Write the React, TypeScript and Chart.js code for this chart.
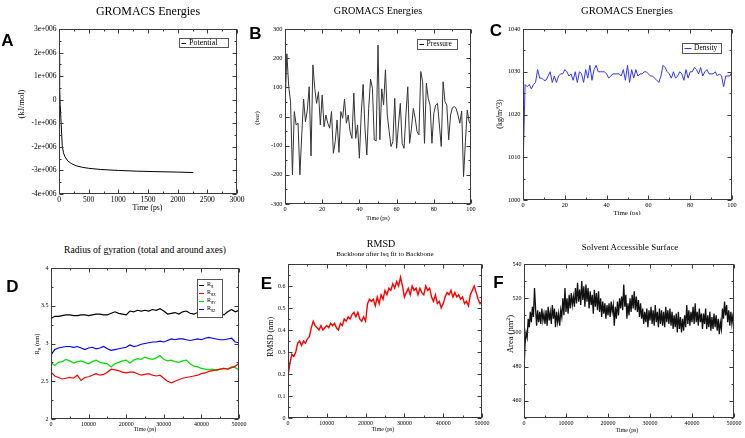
import React, { useEffect, useRef } from 'react';
import { Chart, registerables } from 'chart.js';

Chart.register(...registerables);

const SERIF = '"Liberation Serif", "Times New Roman", Times, serif';
const SANS = '"Liberation Sans", Arial, sans-serif';

// ---------------- DATA ----------------
// A: Potential (kJ/mol) vs time (ps)
const potentialTime = [0, 10, 20, 35, 55, 75, 100, 150, 215, 300, 400, 500, 700, 1000, 1300, 1600, 2000, 2265];
const potentialValues = [1.9e6, 0.6e6, -0.2e6, -0.95e6, -1.95e6, -2.25e6, -2.42e6, -2.6e6, -2.72e6, -2.81e6, -2.87e6, -2.91e6, -2.96e6, -3.0e6, -3.03e6, -3.05e6, -3.07e6, -3.09e6];

// B: Pressure (bar), one value per ps from 0 to 100
const pressureStart = 0;
const pressureStep = 1;
const pressureValues = [
  30, 215, 102, 50, -200, 17, -29, -23, -200, -63,
  60, -18, 22, 102, -135, 177, 97, 45, 85, -29,
  74, -35, 5, -23, -40, 17, -126, -86, -12, -123,
  17, -6, 60, -23, 5, -52, -75, 80, -75, -29,
  -143, 11, 110, -40, -132, 28, 128, 97, -80, -84,
  245, -80, 95, 40, 160, 5, -52, -103, -86, 62,
  -109, -29, 45, -92, -109, 5, 102, -92, -40, 28,
  -6, -52, -63, 154, 119, -92, 114, 62, 39, -92,
  11, 39, 45, -29, -103, 119, 51, 39, -80, 5,
  30, 34, 28, 5, -23, 19, -206, -86, 22, -18,
  -29,
];

// C: Density (kg/m^3), one value per ps from 0 to 100
const densityStart = 0;
const densityStep = 1;
const densityValues = [
  1007, 1027, 1026.5, 1027, 1026, 1027, 1027.5, 1030.5, 1028.5, 1028.5,
  1028, 1028, 1029, 1030, 1027.5, 1029, 1027.5, 1029, 1029.5, 1029.5,
  1030.5, 1030, 1029, 1029.5, 1028, 1030, 1027.5, 1030, 1029.5, 1027.5,
  1030.5, 1028.5, 1031.5, 1028, 1030.5, 1031.5, 1030, 1030, 1030, 1030,
  1029.5, 1028.5, 1029, 1029.5, 1029.5, 1029.5, 1029.5, 1029, 1030.5, 1028,
  1031.5, 1027.5, 1030.5, 1028.5, 1030.5, 1029, 1029.5, 1029.5, 1030, 1030,
  1029.5, 1029, 1029, 1028.5, 1028, 1027.5, 1029, 1031.5, 1031, 1030,
  1029.5, 1028.5, 1030, 1028.5, 1029, 1030, 1029.5, 1028, 1030.5, 1028.5,
  1030, 1030, 1031, 1030.5, 1029.5, 1031, 1029, 1030, 1030.5, 1029.5,
  1029.5, 1029.5, 1030, 1029, 1029.5, 1029, 1026.5, 1029, 1029, 1029,
  1030,
];

// D: Radius of gyration (nm), one value per 1000 ps from 0 to 50000
const gyrStart = 0;
const gyrStep = 1000;
const rgValues = [
  3.33, 3.36, 3.36, 3.37, 3.38, 3.38, 3.37, 3.37, 3.38, 3.38,
  3.37, 3.38, 3.39, 3.39, 3.38, 3.38, 3.40, 3.42, 3.40, 3.39,
  3.38, 3.43, 3.42, 3.44, 3.43, 3.44, 3.43, 3.45, 3.44, 3.46,
  3.43, 3.39, 3.40, 3.41, 3.39, 3.42, 3.43, 3.40, 3.39, 3.41,
  3.38, 3.40, 3.42, 3.40, 3.39, 3.40, 3.38, 3.42, 3.45, 3.42,
  3.44,
];
const rgxValues = [
  2.62, 2.57, 2.55, 2.53, 2.54, 2.55, 2.54, 2.58, 2.51, 2.55,
  2.56, 2.58, 2.60, 2.58, 2.59, 2.62, 2.66, 2.65, 2.64, 2.62,
  2.61, 2.62, 2.62, 2.60, 2.58, 2.59, 2.60, 2.58, 2.57, 2.58,
  2.54, 2.50, 2.48, 2.50, 2.52, 2.54, 2.55, 2.56, 2.57, 2.58,
  2.60, 2.61, 2.63, 2.64, 2.65, 2.66, 2.67, 2.66, 2.68, 2.70,
  2.74,
];
const rgyValues = [
  2.75, 2.71, 2.75, 2.76, 2.79, 2.77, 2.74, 2.76, 2.77, 2.75,
  2.73, 2.76, 2.78, 2.75, 2.74, 2.73, 2.69, 2.73, 2.75, 2.77,
  2.78, 2.74, 2.78, 2.80, 2.79, 2.82, 2.80, 2.79, 2.81, 2.84,
  2.79, 2.77, 2.78, 2.76, 2.75, 2.77, 2.78, 2.73, 2.70, 2.69,
  2.67, 2.66, 2.65, 2.66, 2.64, 2.66, 2.67, 2.66, 2.69, 2.68,
  2.65,
];
const rgzValues = [
  2.85, 2.92, 2.94, 2.95, 2.96, 2.96, 2.95, 2.96, 2.94, 2.92,
  2.94, 2.95, 2.93, 2.94, 2.96, 2.93, 2.91, 2.92, 2.93, 2.94,
  2.95, 2.98, 2.96, 2.97, 2.99, 3.00, 3.01, 3.02, 3.02, 3.03,
  3.02, 3.04, 3.06, 3.05, 3.06, 3.06, 3.05, 3.04, 3.05, 3.06,
  3.05, 3.07, 3.08, 3.07, 3.06, 3.05, 3.05, 3.06, 3.07, 3.02,
  3.01,
];

// E: RMSD (nm), one value per 500 ps from 0 to 50000
const rmsdStart = 0;
const rmsdStep = 500;
const rmsdValues = [
  0.19, 0.25, 0.29, 0.28, 0.30, 0.34, 0.35, 0.33, 0.35, 0.34,
  0.36, 0.37, 0.41, 0.44, 0.42, 0.41, 0.40, 0.42, 0.40, 0.41,
  0.42, 0.41, 0.43, 0.42, 0.43, 0.41, 0.40, 0.43, 0.42, 0.45,
  0.44, 0.46, 0.45, 0.47, 0.48, 0.46, 0.48, 0.45, 0.44, 0.46,
  0.44, 0.52, 0.54, 0.53, 0.54, 0.51, 0.55, 0.52, 0.56, 0.54,
  0.58, 0.56, 0.59, 0.58, 0.61, 0.59, 0.62, 0.60, 0.64, 0.60,
  0.55, 0.57, 0.59, 0.56, 0.60, 0.58, 0.59, 0.56, 0.59, 0.57,
  0.56, 0.60, 0.58, 0.59, 0.55, 0.53, 0.56, 0.52, 0.53, 0.50,
  0.52, 0.55, 0.57, 0.56, 0.58, 0.55, 0.57, 0.55, 0.56, 0.54,
  0.55, 0.52, 0.53, 0.51, 0.56, 0.58, 0.60, 0.57, 0.54, 0.52,
  0.53,
];

// F: Solvent accessible surface area (nm^2), one value per 250 ps from 0 to 50000
const sasStart = 0;
const sasStep = 250;
const sasValues = [
  478, 493, 500, 497, 508, 503, 512, 506, 515, 509,
  526, 514, 504, 513, 506, 512, 505, 514, 507, 511,
  505, 513, 504, 515, 507, 512, 505, 516, 508, 514,
  503, 512, 506, 511, 504, 513, 509, 520, 510, 526,
  512, 520, 511, 522, 514, 523, 516, 521, 515, 526,
  517, 529, 518, 525, 516, 530, 519, 527, 515, 528,
  518, 526, 514, 524, 516, 522, 511, 525, 515, 523,
  513, 524, 512, 520, 509, 518, 511, 517, 508, 516,
  510, 517, 509, 518, 512, 516, 504, 515, 508, 518,
  510, 520, 514, 521, 513, 528, 515, 522, 508, 517,
  510, 520, 512, 522, 514, 524, 513, 521, 512, 519,
  509, 517, 508, 514, 505, 512, 506, 514, 503, 513,
  507, 515, 505, 513, 504, 516, 506, 512, 503, 514,
  505, 513, 504, 512, 503, 515, 506, 513, 505, 514,
  504, 512, 502, 510, 503, 511, 500, 512, 502, 509,
  500, 508, 501, 510, 503, 516, 505, 513, 504, 512,
  506, 515, 505, 517, 506, 512, 504, 514, 506, 511,
  502, 511, 505, 514, 502, 510, 503, 512, 501, 509,
  502, 511, 503, 510, 501, 508, 499, 506, 502, 514,
  508, 518, 510, 516, 506, 513, 504, 512, 505, 510,
  508,
];

// Tick values and labels
const potXMajor = [0, 500, 1000, 1500, 2000, 2500, 3000];
const potXLabels = ['0', '500', '1000', '1500', '2000', '2500', '3000'];
const potXMinor = [250, 750, 1250, 1750, 2250, 2750];
const potYMajor = [-4e6, -3e6, -2e6, -1e6, 0, 1e6, 2e6, 3e6];
const potYLabels = ['-4e+006', '-3e+006', '-2e+006', '-1e+006', '0', '1e+006', '2e+006', '3e+006'];
const potYMinor = [-3.5e6, -2.5e6, -1.5e6, -0.5e6, 0.5e6, 1.5e6, 2.5e6];

const hundredXMajor = [0, 20, 40, 60, 80, 100];
const hundredXLabels = ['0', '20', '40', '60', '80', '100'];
const hundredXMinor = [10, 30, 50, 70, 90];

const presYMajor = [-300, -200, -100, 0, 100, 200, 300];
const presYLabels = ['-300', '-200', '-100', '0', '100', '200', '300'];
const presYMinor = [-250, -150, -50, 50, 150, 250];

const densYMajor = [1000, 1010, 1020, 1030, 1040];
const densYLabels = ['1000', '1010', '1020', '1030', '1040'];
const densYMinor = [1005, 1015, 1025, 1035];

const longXMajor = [0, 10000, 20000, 30000, 40000, 50000];
const longXLabels = ['0', '10000', '20000', '30000', '40000', '50000'];
const longXMinor = [5000, 15000, 25000, 35000, 45000];

const gyrYMajor = [2, 2.5, 3, 3.5, 4];
const gyrYLabels = ['2', '2.5', '3', '3.5', '4'];
const gyrYMinor = [2.25, 2.75, 3.25, 3.75];

const rmsdYMajor = [0, 0.1, 0.2, 0.3, 0.4, 0.5, 0.6, 0.7];
const rmsdYLabels = ['0', '0.1', '0.2', '0.3', '0.4', '0.5', '0.6', ''];
const rmsdYMinor = [0.05, 0.15, 0.25, 0.35, 0.45, 0.55, 0.65];

const sasYMajor = [460, 480, 500, 520, 540];
const sasYLabels = ['460', '480', '500', '520', '540'];
const sasYMinor = [450, 470, 490, 510, 530];

// ---------------- HELPERS ----------------
type Pt = { x: number; y: number };
const pairPoints = (xs: number[], ys: number[]): Pt[] => ys.map((y, i) => ({ x: xs[i], y }));
const stepPoints = (start: number, step: number, ys: number[]): Pt[] => ys.map((y, i) => ({ x: start + i * step, y }));

interface AxisSpec { min: number; max: number; major: number[]; labels: string[]; minor: number[] }
interface LegendEntry { main: string; sub?: string; subsub?: string; color: string }
interface LegendSpec { box: [number, number, number, number]; rows: number[]; font: number; lineFrom: number; lineTo: number; textX: number; entries: LegendEntry[] }
interface PanelSpec {
  id: string;
  plot: [number, number, number, number];
  x: AxisSpec;
  y: AxisSpec;
  tickFont: number;
  series: { points: Pt[]; color: string; width: number }[];
  legend?: LegendSpec;
}

const PAD_L = 50, PAD_T = 8, PAD_R = 18, PAD_B = 16;
const FRAME = '#3a3a3a';

const panels: PanelSpec[] = [
  {
    id: 'A', plot: [59, 29, 237, 194], tickFont: 7.5,
    x: { min: 0, max: 3000, major: potXMajor, labels: potXLabels, minor: potXMinor },
    y: { min: -4e6, max: 3e6, major: potYMajor, labels: potYLabels, minor: potYMinor },
    series: [{ points: pairPoints(potentialTime, potentialValues), color: '#000000', width: 1 }],
    legend: { box: [179, 38, 228, 47], rows: [42.5], font: 8, lineFrom: 181.5, lineTo: 186, textX: 189, entries: [{ main: 'Potential', color: '#000000' }] },
  },
  {
    id: 'B', plot: [285, 29, 471, 204], tickFont: 6.3,
    x: { min: 0, max: 100, major: hundredXMajor, labels: hundredXLabels, minor: hundredXMinor },
    y: { min: -300, max: 300, major: presYMajor, labels: presYLabels, minor: presYMinor },
    series: [{ points: stepPoints(pressureStart, pressureStep, pressureValues), color: '#333333', width: 1 }],
    legend: { box: [417, 39, 457, 49], rows: [44], font: 7.5, lineFrom: 419.5, lineTo: 424, textX: 426.5, entries: [{ main: 'Pressure', color: '#000000' }] },
  },
  {
    id: 'C', plot: [523, 29, 732, 200], tickFont: 6.3,
    x: { min: 0, max: 100, major: hundredXMajor, labels: hundredXLabels, minor: hundredXMinor },
    y: { min: 1000, max: 1040, major: densYMajor, labels: densYLabels, minor: densYMinor },
    series: [{ points: stepPoints(densityStart, densityStep, densityValues), color: '#3333ff', width: 1 }],
    legend: { box: [682, 43, 721, 53], rows: [48], font: 7.5, lineFrom: 684.5, lineTo: 691.5, textX: 694, entries: [{ main: 'Density', color: '#3333ff' }] },
  },
  {
    id: 'D', plot: [51, 268, 239, 419], tickFont: 6,
    x: { min: 0, max: 50000, major: longXMajor, labels: longXLabels, minor: longXMinor },
    y: { min: 2, max: 4, major: gyrYMajor, labels: gyrYLabels, minor: gyrYMinor },
    series: [
      { points: stepPoints(gyrStart, gyrStep, rgValues), color: '#000000', width: 1.2 },
      { points: stepPoints(gyrStart, gyrStep, rgxValues), color: '#ff0000', width: 1.2 },
      { points: stepPoints(gyrStart, gyrStep, rgyValues), color: '#00dd00', width: 1.2 },
      { points: stepPoints(gyrStart, gyrStep, rgzValues), color: '#0000ff', width: 1.2 },
    ],
    legend: {
      box: [197, 279, 222, 317], rows: [284.5, 292.5, 300.5, 308.5], font: 6, lineFrom: 199, lineTo: 204, textX: 207,
      entries: [
        { main: 'R', sub: 'g', color: '#000000' },
        { main: 'R', sub: 'g', subsub: 'X', color: '#ff0000' },
        { main: 'R', sub: 'g', subsub: 'Y', color: '#00dd00' },
        { main: 'R', sub: 'g', subsub: 'Z', color: '#0000ff' },
      ],
    },
  },
  {
    id: 'E', plot: [288, 264, 482, 418], tickFont: 6,
    x: { min: 0, max: 50000, major: longXMajor, labels: longXLabels, minor: longXMinor },
    y: { min: 0, max: 0.7, major: rmsdYMajor, labels: rmsdYLabels, minor: rmsdYMinor },
    series: [{ points: stepPoints(rmsdStart, rmsdStep, rmsdValues), color: '#ff0000', width: 1.4 }],
  },
  {
    id: 'F', plot: [524, 264, 734, 418], tickFont: 6,
    x: { min: 0, max: 50000, major: longXMajor, labels: longXLabels, minor: longXMinor },
    y: { min: 450, max: 540, major: sasYMajor, labels: sasYLabels, minor: sasYMinor },
    series: [{ points: stepPoints(sasStart, sasStep, sasValues), color: '#111111', width: 1.3 }],
  },
];

function labelLookup(ax: AxisSpec) {
  const tol = Math.abs(ax.max - ax.min) * 1e-6;
  return (v: number) => {
    const i = ax.major.findIndex((m) => Math.abs(m - v) <= tol);
    return i >= 0 ? ax.labels[i] : '';
  };
}

function makeFramePlugin(spec: PanelSpec, offX: number, offY: number) {
  return {
    id: 'xmgrFrame' + spec.id,
    afterDatasetsDraw(chart: any) {
      const { ctx, chartArea: a, scales } = chart;
      const xs = scales.x, ys = scales.y;
      ctx.save();
      ctx.strokeStyle = FRAME;
      ctx.lineWidth = 1;
      const L = Math.round(a.left) + 0.5, R = Math.round(a.right) - 0.5;
      const T = Math.round(a.top) + 0.5, B = Math.round(a.bottom) - 0.5;
      ctx.strokeRect(L, T, R - L, B - T);
      ctx.beginPath();
      const xt = (v: number, len: number) => {
        const p = Math.round(xs.getPixelForValue(v)) + 0.5;
        ctx.moveTo(p, B); ctx.lineTo(p, B - len);
        ctx.moveTo(p, T); ctx.lineTo(p, T + len);
      };
      const yt = (v: number, len: number) => {
        const p = Math.round(ys.getPixelForValue(v)) + 0.5;
        ctx.moveTo(L, p); ctx.lineTo(L + len, p);
        ctx.moveTo(R, p); ctx.lineTo(R - len, p);
      };
      spec.x.major.forEach((v) => xt(v, 4));
      spec.x.minor.forEach((v) => xt(v, 2));
      spec.y.major.forEach((v) => yt(v, 4));
      spec.y.minor.forEach((v) => yt(v, 2));
      ctx.stroke();

      const lg = spec.legend;
      if (lg) {
        const [bl, bt, br, bb] = lg.box;
        const x0 = bl - offX, y0 = bt - offY;
        ctx.fillStyle = '#ffffff';
        ctx.fillRect(x0 + 0.5, y0 + 0.5, br - bl, bb - bt);
        ctx.strokeStyle = '#555555';
        ctx.strokeRect(x0 + 0.5, y0 + 0.5, br - bl, bb - bt);
        lg.entries.forEach((e, i) => {
          const cy = lg.rows[i] - offY;
          ctx.strokeStyle = e.color;
          ctx.lineWidth = 1;
          ctx.beginPath();
          ctx.moveTo(lg.lineFrom - offX, Math.round(cy) + 0.5);
          ctx.lineTo(lg.lineTo - offX, Math.round(cy) + 0.5);
          ctx.stroke();
          ctx.fillStyle = '#000000';
          ctx.textBaseline = 'middle';
          ctx.textAlign = 'left';
          let tx = lg.textX - offX;
          ctx.font = `${lg.font}px ${SERIF}`;
          ctx.fillText(e.main, tx, cy);
          tx += ctx.measureText(e.main).width;
          if (e.sub) {
            ctx.font = `${lg.font * 0.75}px ${SERIF}`;
            ctx.fillText(e.sub, tx, cy + lg.font * 0.25);
            tx += ctx.measureText(e.sub).width;
          }
          if (e.subsub) {
            ctx.font = `${lg.font * 0.55}px ${SERIF}`;
            ctx.fillText(e.subsub, tx, cy + lg.font * 0.5);
          }
        });
      }
      ctx.restore();
    },
  };
}

function geometry(spec: PanelSpec) {
  const [l, t, r, b] = spec.plot;
  return { left: l - PAD_L, top: t - PAD_T, width: PAD_L + (r - l) + PAD_R, height: PAD_T + (b - t) + PAD_B };
}

function createChart(canvas: HTMLCanvasElement, spec: PanelSpec) {
  const g = geometry(spec);
  const font = { family: SERIF, size: spec.tickFont };
  const xLab = labelLookup(spec.x), yLab = labelLookup(spec.y);
  return new Chart(canvas, {
    type: 'line',
    data: {
      datasets: spec.series.map((s) => ({
        data: s.points,
        borderColor: s.color,
        borderWidth: s.width,
        pointRadius: 0,
        fill: false,
        tension: 0,
      })),
    },
    options: {
      animation: false,
      responsive: false,
      maintainAspectRatio: false,
      devicePixelRatio: 1,
      events: [],
      parsing: false,
      layout: { padding: { left: 0, top: PAD_T, right: PAD_R, bottom: 0 } },
      plugins: { legend: { display: false }, tooltip: { enabled: false }, title: { display: false } },
      scales: {
        x: {
          type: 'linear',
          min: spec.x.min,
          max: spec.x.max,
          afterBuildTicks: (s: any) => { s.ticks = spec.x.major.map((v) => ({ value: v })); },
          afterFit: (s: any) => { s.height = PAD_B; },
          grid: { display: false, drawTicks: false },
          border: { display: false },
          ticks: { font, color: '#000000', padding: 2, maxRotation: 0, minRotation: 0, autoSkip: false, callback: (v: any) => xLab(Number(v)) },
        },
        y: {
          type: 'linear',
          min: spec.y.min,
          max: spec.y.max,
          afterBuildTicks: (s: any) => { s.ticks = spec.y.major.map((v) => ({ value: v })); },
          afterFit: (s: any) => { s.width = PAD_L; },
          grid: { display: false, drawTicks: false },
          border: { display: false },
          ticks: { font, color: '#000000', padding: 2.5, autoSkip: false, callback: (v: any) => yLab(Number(v)) },
        },
      },
    } as any,
    plugins: [makeFramePlugin(spec, g.left, g.top)],
  });
}

// ---------------- TEXT OVERLAYS ----------------
interface TextItem { content: React.ReactNode; x: number; y: number; size: number; rotate?: boolean; letter?: boolean }
const textItems: TextItem[] = [
  // panel letters
  { content: 'A', x: 7.5, y: 40, size: 17, letter: true },
  { content: 'B', x: 255.5, y: 33, size: 17, letter: true },
  { content: 'C', x: 496, y: 30, size: 17, letter: true },
  { content: 'D', x: 12.5, y: 286, size: 17, letter: true },
  { content: 'E', x: 266.5, y: 282.5, size: 17, letter: true },
  { content: 'F', x: 498.5, y: 281.5, size: 17, letter: true },
  // titles
  { content: 'GROMACS Energies', x: 148, y: 11, size: 12 },
  { content: 'GROMACS Energies', x: 378, y: 11, size: 10.2 },
  { content: 'GROMACS Energies', x: 627, y: 11, size: 10.6 },
  { content: 'Radius of gyration (total and around axes)', x: 145, y: 250, size: 9.6 },
  { content: 'RMSD', x: 381, y: 244, size: 10 },
  { content: 'Backbone after lsq fit to Backbone', x: 385, y: 254, size: 7 },
  { content: 'Solvent Accessible Surface', x: 630, y: 247, size: 8.9 },
  // x-axis titles
  { content: 'Time (ps)', x: 147.5, y: 207.5, size: 7.7 },
  { content: 'Time (ps)', x: 378, y: 218, size: 6 },
  { content: 'Time (ps)', x: 145, y: 430, size: 5.8 },
  { content: 'Time (ps)', x: 383, y: 429.5, size: 5.8 },
  { content: 'Time (ps)', x: 627, y: 430.5, size: 5.8 },
  // y-axis titles
  { content: '(kJ/mol)', x: 20.5, y: 104, size: 8.5, rotate: true },
  { content: '(bar)', x: 256.5, y: 117.5, size: 7, rotate: true },
  { content: '(kg/m^3)', x: 500, y: 114, size: 8, rotate: true },
  { content: <span>R<sub style={{ fontSize: '0.75em', verticalAlign: '-0.2em' }}>g</sub> (nm)</span>, x: 37.5, y: 344, size: 6.5, rotate: true },
  { content: 'RMSD (nm)', x: 270.5, y: 337, size: 8, rotate: true },
  { content: <span>Area (nm<sup style={{ fontSize: '0.7em', verticalAlign: '0.45em' }}>2</sup>)</span>, x: 509.5, y: 334, size: 8.5, rotate: true },
];

export default function App() {
  const refs = useRef<(HTMLCanvasElement | null)[]>([]);

  useEffect(() => {
    document.body.style.margin = '0';
    const charts = panels.map((p, i) => createChart(refs.current[i] as HTMLCanvasElement, p));
    return () => charts.forEach((c) => c.destroy());
  }, []);

  return (
    <div style={{ position: 'absolute', left: 0, top: 0, width: 745, height: 438, background: '#ffffff', overflow: 'hidden', fontFamily: SERIF }}>
      {panels.map((p, i) => {
        const g = geometry(p);
        return (
          <canvas
            key={p.id}
            ref={(el) => { refs.current[i] = el; }}
            width={g.width}
            height={g.height}
            style={{ position: 'absolute', left: g.left, top: g.top, width: g.width, height: g.height }}
          />
        );
      })}
      {textItems.map((t, i) => (
        <div
          key={i}
          style={{
            position: 'absolute',
            left: t.x,
            top: t.y,
            transform: `translate(-50%, -50%)${t.rotate ? ' rotate(-90deg)' : ''}`,
            fontSize: t.size,
            fontFamily: t.letter ? SANS : SERIF,
            fontWeight: t.letter ? 700 : 400,
            whiteSpace: 'nowrap',
            lineHeight: 1,
            color: '#000000',
          }}
        >
          {t.content}
        </div>
      ))}
      <div style={{ position: 'absolute', left: 567, top: 209, width: 120, height: 6, overflow: 'hidden' }}>
        <div style={{ position: 'absolute', left: 0, width: 120, top: 1, textAlign: 'center', fontSize: 7, lineHeight: 1, fontFamily: SERIF, whiteSpace: 'nowrap' }}>Time (ps)</div>
      </div>
    </div>
  );
}
